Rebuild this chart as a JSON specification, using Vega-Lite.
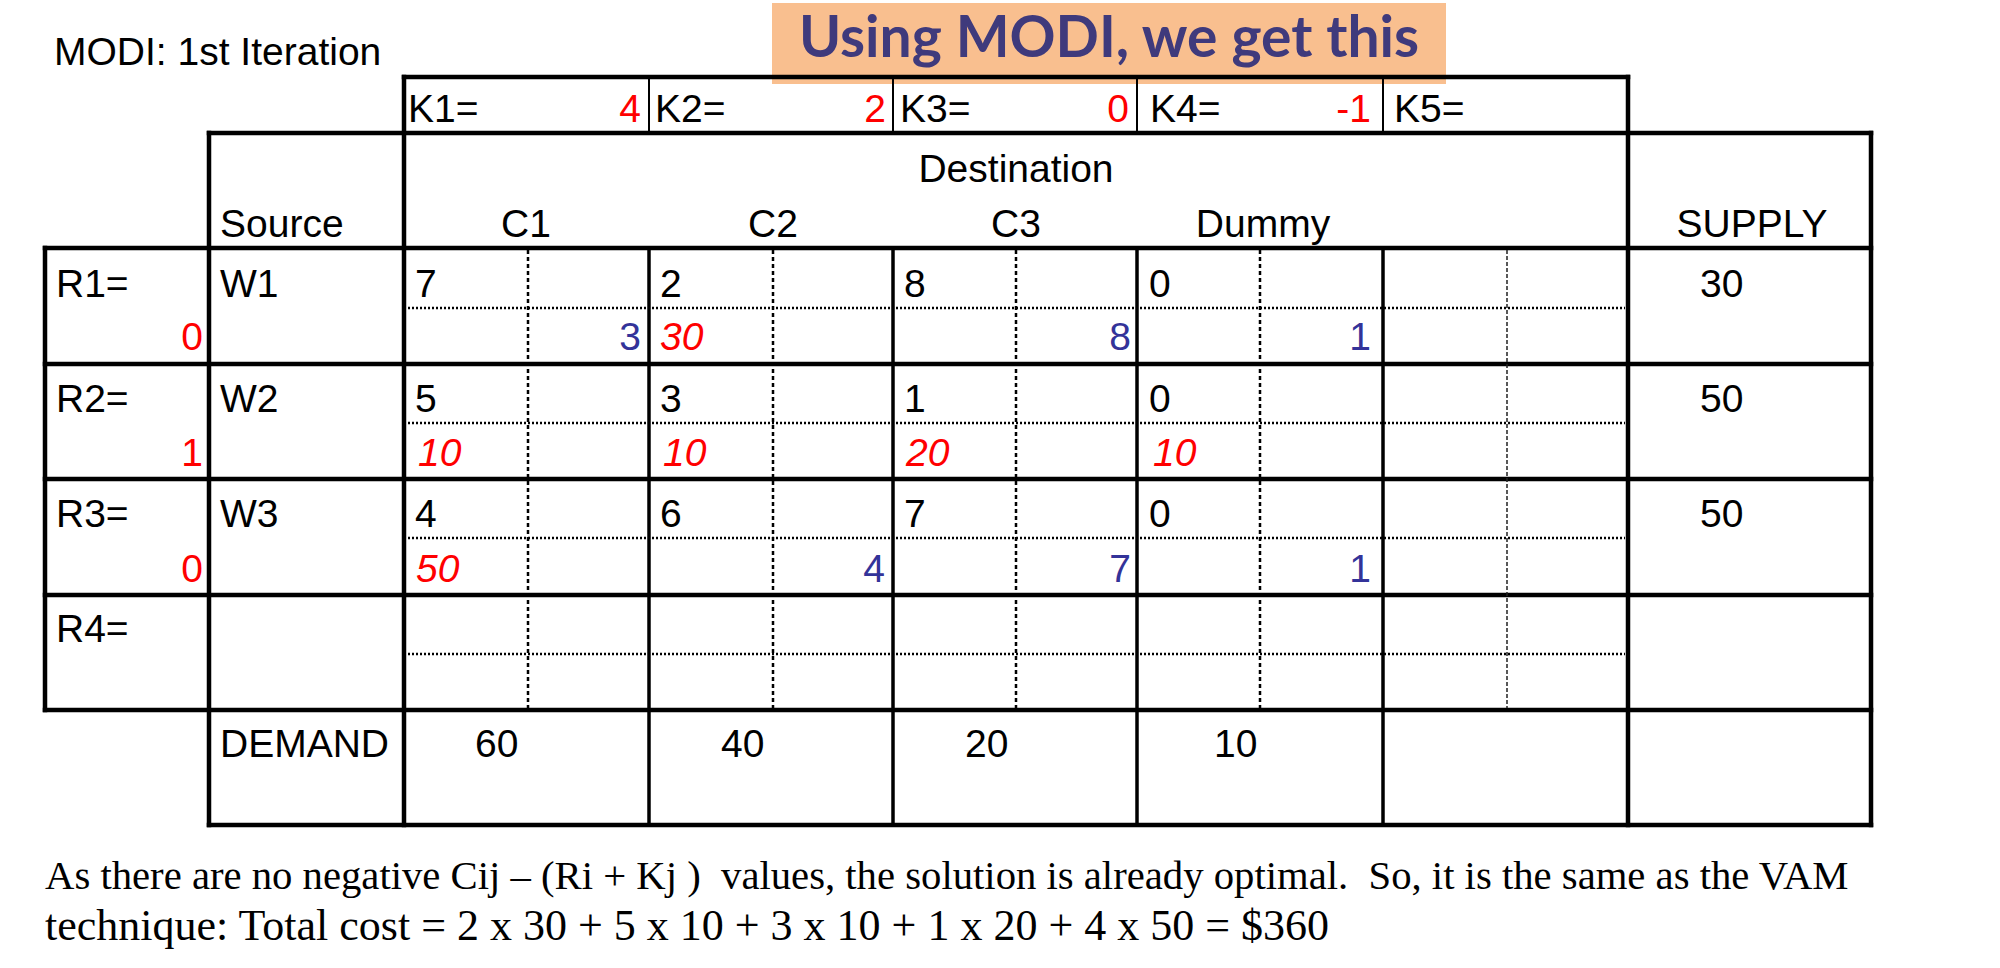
{
  "$schema": "https://vega.github.io/schema/vega-lite/v6.json",
  "width": 2000,
  "height": 968,
  "padding": 0,
  "autosize": {"type": "fit", "contains": "padding"},
  "background": "white",
  "config": {"view": {"stroke": null}},
  "datasets": {
    "boxes": [
      {"kind": "banner", "x": 772, "x2": 1446, "y": 3, "y2": 84}
    ],
    "lines": [
      {"kind": "thick", "x": 404, "x2": 1628, "y": 77, "y2": 77},
      {"kind": "thick", "x": 404, "x2": 404, "y": 77, "y2": 825},
      {"kind": "thick", "x": 1628, "x2": 1628, "y": 77, "y2": 825},
      {"kind": "thick", "x": 209, "x2": 1871, "y": 133, "y2": 133},
      {"kind": "thick", "x": 209, "x2": 209, "y": 133, "y2": 825},
      {"kind": "thick", "x": 1871, "x2": 1871, "y": 133, "y2": 825},
      {"kind": "thick", "x": 45, "x2": 1871, "y": 248, "y2": 248},
      {"kind": "thick", "x": 45, "x2": 45, "y": 248, "y2": 710},
      {"kind": "thick", "x": 45, "x2": 1871, "y": 364, "y2": 364},
      {"kind": "thick", "x": 45, "x2": 1871, "y": 479, "y2": 479},
      {"kind": "thick", "x": 45, "x2": 1871, "y": 595, "y2": 595},
      {"kind": "thick", "x": 45, "x2": 1871, "y": 710, "y2": 710},
      {"kind": "thick", "x": 209, "x2": 1871, "y": 825, "y2": 825},
      {"kind": "col", "x": 649, "x2": 649, "y": 248, "y2": 825},
      {"kind": "col", "x": 893, "x2": 893, "y": 248, "y2": 825},
      {"kind": "col", "x": 1137, "x2": 1137, "y": 248, "y2": 825},
      {"kind": "col", "x": 1383, "x2": 1383, "y": 248, "y2": 825},
      {"kind": "thin", "x": 649, "x2": 649, "y": 77, "y2": 133},
      {"kind": "thin", "x": 893, "x2": 893, "y": 77, "y2": 133},
      {"kind": "thin", "x": 1137, "x2": 1137, "y": 77, "y2": 133},
      {"kind": "thin", "x": 1383, "x2": 1383, "y": 77, "y2": 133},
      {"kind": "vdash", "x": 528, "x2": 528, "y": 250, "y2": 708},
      {"kind": "vdash", "x": 773, "x2": 773, "y": 250, "y2": 708},
      {"kind": "vdash", "x": 1016, "x2": 1016, "y": 250, "y2": 708},
      {"kind": "vdash", "x": 1260, "x2": 1260, "y": 250, "y2": 708},
      {"kind": "vdash2", "x": 1507, "x2": 1507, "y": 250, "y2": 708},
      {"kind": "hdot", "x": 404, "x2": 1625, "y": 308, "y2": 308},
      {"kind": "hdot", "x": 404, "x2": 1625, "y": 423, "y2": 423},
      {"kind": "hdot", "x": 404, "x2": 1625, "y": 538, "y2": 538},
      {"kind": "hdot", "x": 404, "x2": 1625, "y": 654, "y2": 654}
    ],
    "texts": [
      {"kind": "title", "text": "Using MODI, we get this", "x": 1109, "y": 57},
      {"kind": "left", "text": "MODI: 1st Iteration", "x": 54, "y": 65},
      {"kind": "left", "text": "K1=", "x": 408, "y": 122},
      {"kind": "left", "text": "K2=", "x": 655, "y": 122},
      {"kind": "left", "text": "K3=", "x": 900, "y": 122},
      {"kind": "left", "text": "K4=", "x": 1150, "y": 122},
      {"kind": "left", "text": "K5=", "x": 1394, "y": 122},
      {"kind": "left", "text": "Source", "x": 220, "y": 237},
      {"kind": "left", "text": "R1=", "x": 56, "y": 297},
      {"kind": "left", "text": "W1", "x": 220, "y": 297},
      {"kind": "left", "text": "R2=", "x": 56, "y": 412},
      {"kind": "left", "text": "W2", "x": 220, "y": 412},
      {"kind": "left", "text": "R3=", "x": 56, "y": 527},
      {"kind": "left", "text": "W3", "x": 220, "y": 527},
      {"kind": "left", "text": "R4=", "x": 56, "y": 642},
      {"kind": "left", "text": "DEMAND", "x": 220, "y": 757},
      {"kind": "left", "text": "7", "x": 415, "y": 297},
      {"kind": "left", "text": "2", "x": 660, "y": 297},
      {"kind": "left", "text": "8", "x": 904, "y": 297},
      {"kind": "left", "text": "0", "x": 1149, "y": 297},
      {"kind": "left", "text": "5", "x": 415, "y": 412},
      {"kind": "left", "text": "3", "x": 660, "y": 412},
      {"kind": "left", "text": "1", "x": 904, "y": 412},
      {"kind": "left", "text": "0", "x": 1149, "y": 412},
      {"kind": "left", "text": "4", "x": 415, "y": 527},
      {"kind": "left", "text": "6", "x": 660, "y": 527},
      {"kind": "left", "text": "7", "x": 904, "y": 527},
      {"kind": "left", "text": "0", "x": 1149, "y": 527},
      {"kind": "left", "text": "30", "x": 1700, "y": 297},
      {"kind": "left", "text": "50", "x": 1700, "y": 412},
      {"kind": "left", "text": "50", "x": 1700, "y": 527},
      {"kind": "left", "text": "60", "x": 475, "y": 757},
      {"kind": "left", "text": "40", "x": 721, "y": 757},
      {"kind": "left", "text": "20", "x": 965, "y": 757},
      {"kind": "left", "text": "10", "x": 1214, "y": 757},
      {"kind": "center", "text": "Destination", "x": 1016, "y": 182},
      {"kind": "center", "text": "C1", "x": 526, "y": 237},
      {"kind": "center", "text": "C2", "x": 773, "y": 237},
      {"kind": "center", "text": "C3", "x": 1016, "y": 237},
      {"kind": "center", "text": "Dummy", "x": 1263, "y": 237},
      {"kind": "center", "text": "SUPPLY", "x": 1752, "y": 237},
      {"kind": "potential", "text": "4", "x": 641, "y": 122},
      {"kind": "potential", "text": "2", "x": 886, "y": 122},
      {"kind": "potential", "text": "0", "x": 1129, "y": 122},
      {"kind": "potential", "text": "-1", "x": 1371, "y": 122},
      {"kind": "potential", "text": "0", "x": 203, "y": 350},
      {"kind": "potential", "text": "1", "x": 203, "y": 466},
      {"kind": "potential", "text": "0", "x": 203, "y": 582},
      {"kind": "delta", "text": "3", "x": 641, "y": 350},
      {"kind": "delta", "text": "8", "x": 1131, "y": 350},
      {"kind": "delta", "text": "1", "x": 1371, "y": 350},
      {"kind": "delta", "text": "4", "x": 885, "y": 582},
      {"kind": "delta", "text": "7", "x": 1131, "y": 582},
      {"kind": "delta", "text": "1", "x": 1371, "y": 582},
      {"kind": "alloc", "text": "30", "x": 660, "y": 350},
      {"kind": "alloc", "text": "10", "x": 418, "y": 466},
      {"kind": "alloc", "text": "10", "x": 663, "y": 466},
      {"kind": "alloc", "text": "20", "x": 906, "y": 466},
      {"kind": "alloc", "text": "10", "x": 1153, "y": 466},
      {"kind": "alloc", "text": "50", "x": 416, "y": 582},
      {"kind": "para1", "text": "As there are no negative Cij – (Ri + Kj ) \u00a0values, the solution is already optimal. \u00a0So, it is the same as the VAM", "x": 45, "y": 889},
      {"kind": "para2", "text": "technique: Total cost = 2 x 30 + 5 x 10 + 3 x 10 + 1 x 20 + 4 x 50 = $360", "x": 45, "y": 940}
    ]
  },
  "layer": [
    {
      "data": {"name": "boxes"},
      "mark": {"type": "rect", "color": "#f9bf8f"},
      "encoding": {
        "x": {"field": "x", "type": "quantitative", "scale": {"domain": [0, 2000], "nice": false, "zero": false}, "axis": null},
        "x2": {"field": "x2"},
        "y": {"field": "y", "type": "quantitative", "scale": {"domain": [0, 968], "nice": false, "zero": false, "reverse": true}, "axis": null},
        "y2": {"field": "y2"}
      }
    },
    {
      "data": {"name": "lines"},
      "transform": [{"filter": "datum.kind === 'thick'"}],
      "mark": {"type": "rule", "color": "black", "strokeWidth": 4.5, "strokeCap": "square"},
      "encoding": {
        "x": {"field": "x", "type": "quantitative", "axis": null},
        "x2": {"field": "x2"},
        "y": {"field": "y", "type": "quantitative", "axis": null},
        "y2": {"field": "y2"}
      }
    },
    {
      "data": {"name": "lines"},
      "transform": [{"filter": "datum.kind === 'col'"}],
      "mark": {"type": "rule", "color": "black", "strokeWidth": 3.5},
      "encoding": {
        "x": {"field": "x", "type": "quantitative", "axis": null},
        "x2": {"field": "x2"},
        "y": {"field": "y", "type": "quantitative", "axis": null},
        "y2": {"field": "y2"}
      }
    },
    {
      "data": {"name": "lines"},
      "transform": [{"filter": "datum.kind === 'thin'"}],
      "mark": {"type": "rule", "color": "black", "strokeWidth": 2},
      "encoding": {
        "x": {"field": "x", "type": "quantitative", "axis": null},
        "x2": {"field": "x2"},
        "y": {"field": "y", "type": "quantitative", "axis": null},
        "y2": {"field": "y2"}
      }
    },
    {
      "data": {"name": "lines"},
      "transform": [{"filter": "datum.kind === 'vdash'"}],
      "mark": {"type": "rule", "color": "black", "strokeWidth": 2.5, "strokeDash": [4, 3]},
      "encoding": {
        "x": {"field": "x", "type": "quantitative", "axis": null},
        "x2": {"field": "x2"},
        "y": {"field": "y", "type": "quantitative", "axis": null},
        "y2": {"field": "y2"}
      }
    },
    {
      "data": {"name": "lines"},
      "transform": [{"filter": "datum.kind === 'vdash2'"}],
      "mark": {"type": "rule", "color": "#222222", "strokeWidth": 1.5, "strokeDash": [4, 2]},
      "encoding": {
        "x": {"field": "x", "type": "quantitative", "axis": null},
        "x2": {"field": "x2"},
        "y": {"field": "y", "type": "quantitative", "axis": null},
        "y2": {"field": "y2"}
      }
    },
    {
      "data": {"name": "lines"},
      "transform": [{"filter": "datum.kind === 'hdot'"}],
      "mark": {"type": "rule", "color": "black", "strokeWidth": 2.5, "strokeDash": [2, 2]},
      "encoding": {
        "x": {"field": "x", "type": "quantitative", "axis": null},
        "x2": {"field": "x2"},
        "y": {"field": "y", "type": "quantitative", "axis": null},
        "y2": {"field": "y2"}
      }
    },
    {
      "data": {"name": "texts"},
      "transform": [{"filter": "datum.kind === 'title'"}],
      "mark": {"type": "text", "align": "center", "baseline": "alphabetic", "font": "Lato", "fontWeight": "bold", "fontSize": 57, "color": "#3f3a7c"},
      "encoding": {
        "x": {"field": "x", "type": "quantitative", "axis": null},
        "y": {"field": "y", "type": "quantitative", "axis": null},
        "text": {"field": "text"}
      }
    },
    {
      "data": {"name": "texts"},
      "transform": [{"filter": "datum.kind === 'left'"}],
      "mark": {"type": "text", "align": "left", "baseline": "alphabetic", "font": "Liberation Sans", "fontSize": 39, "color": "black"},
      "encoding": {
        "x": {"field": "x", "type": "quantitative", "axis": null},
        "y": {"field": "y", "type": "quantitative", "axis": null},
        "text": {"field": "text"}
      }
    },
    {
      "data": {"name": "texts"},
      "transform": [{"filter": "datum.kind === 'center'"}],
      "mark": {"type": "text", "align": "center", "baseline": "alphabetic", "font": "Liberation Sans", "fontSize": 39, "color": "black"},
      "encoding": {
        "x": {"field": "x", "type": "quantitative", "axis": null},
        "y": {"field": "y", "type": "quantitative", "axis": null},
        "text": {"field": "text"}
      }
    },
    {
      "data": {"name": "texts"},
      "transform": [{"filter": "datum.kind === 'potential'"}],
      "mark": {"type": "text", "align": "right", "baseline": "alphabetic", "font": "Liberation Sans", "fontSize": 39, "color": "#ff0000"},
      "encoding": {
        "x": {"field": "x", "type": "quantitative", "axis": null},
        "y": {"field": "y", "type": "quantitative", "axis": null},
        "text": {"field": "text"}
      }
    },
    {
      "data": {"name": "texts"},
      "transform": [{"filter": "datum.kind === 'delta'"}],
      "mark": {"type": "text", "align": "right", "baseline": "alphabetic", "font": "Liberation Sans", "fontSize": 39, "color": "#333399"},
      "encoding": {
        "x": {"field": "x", "type": "quantitative", "axis": null},
        "y": {"field": "y", "type": "quantitative", "axis": null},
        "text": {"field": "text"}
      }
    },
    {
      "data": {"name": "texts"},
      "transform": [{"filter": "datum.kind === 'alloc'"}],
      "mark": {"type": "text", "align": "left", "baseline": "alphabetic", "font": "Liberation Sans", "fontSize": 39, "fontStyle": "italic", "color": "#ff0000"},
      "encoding": {
        "x": {"field": "x", "type": "quantitative", "axis": null},
        "y": {"field": "y", "type": "quantitative", "axis": null},
        "text": {"field": "text"}
      }
    },
    {
      "data": {"name": "texts"},
      "transform": [{"filter": "datum.kind === 'para1'"}],
      "mark": {"type": "text", "align": "left", "baseline": "alphabetic", "font": "Liberation Serif", "fontSize": 40.7, "color": "black"},
      "encoding": {
        "x": {"field": "x", "type": "quantitative", "axis": null},
        "y": {"field": "y", "type": "quantitative", "axis": null},
        "text": {"field": "text"}
      }
    },
    {
      "data": {"name": "texts"},
      "transform": [{"filter": "datum.kind === 'para2'"}],
      "mark": {"type": "text", "align": "left", "baseline": "alphabetic", "font": "Liberation Serif", "fontSize": 44, "color": "black"},
      "encoding": {
        "x": {"field": "x", "type": "quantitative", "axis": null},
        "y": {"field": "y", "type": "quantitative", "axis": null},
        "text": {"field": "text"}
      }
    }
  ]
}
